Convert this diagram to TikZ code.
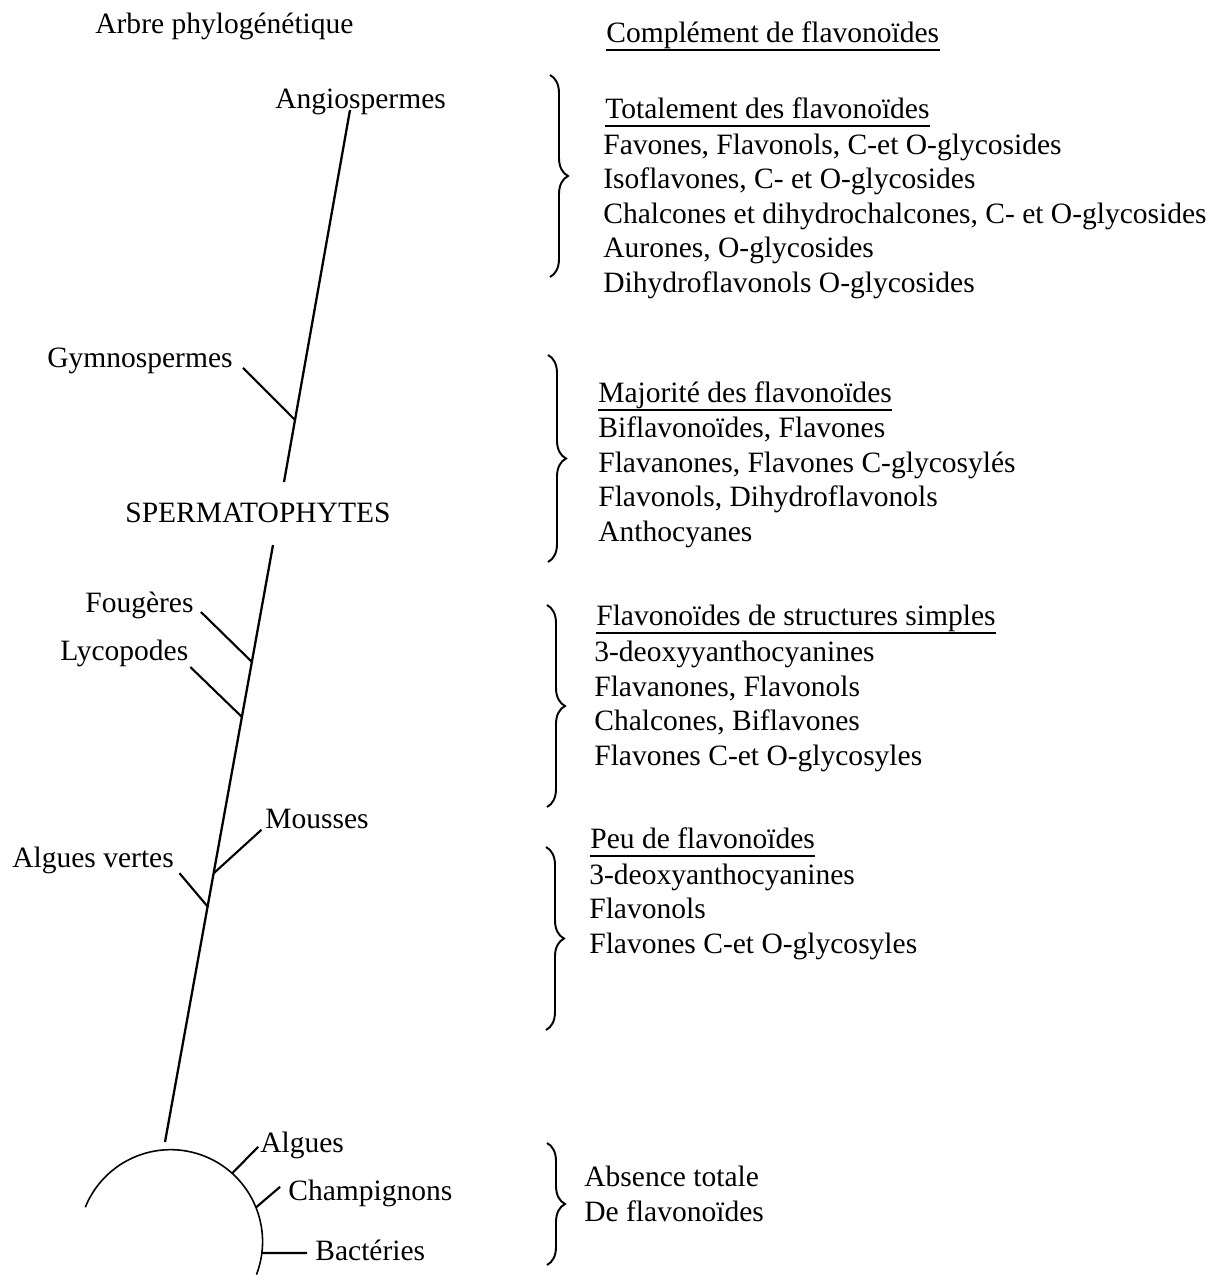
\documentclass[tikz,border=0pt]{standalone}
\usepackage{fontspec}
\setmainfont{Liberation Serif}
\usetikzlibrary{decorations.pathreplacing}

\begin{document}
\begin{tikzpicture}[x=0.02cm, y=-0.02cm,
    lbl/.style={anchor=base west, inner sep=0pt, font=\fontsize{16.8}{19.6}\selectfont},
    lst/.style={lbl, align=left},
    trunk/.style={line width=1.3pt},
    branch/.style={line width=1.2pt},
    soil/.style={line width=0.9pt},
    uline/.style={line width=0.8pt},
    accolade/.style={line width=1.1pt, decorate, decoration={brace, amplitude=0.36cm}}
]
\useasboundingbox (0,0) rectangle (1219,1275);

% Titles
\node[lbl] (arbre) at (95,33) {Arbre phylogénétique};
\node[lbl] (compl) at (606,42) {Complément de flavonoïdes};
\draw[uline] ([yshift=-4.5pt]compl.base west) -- ([yshift=-4.5pt]compl.base east);

% Tree labels
\node[lbl] (angio) at (275,108) {Angiospermes};
\node[lbl] (gymno) at (47,367) {Gymnospermes};
\node[lbl] (sperma) at (125,522) {SPERMATOPHYTES};
\node[lbl] (foug) at (85,612) {Fougères};
\node[lbl] (lyco) at (60,660) {Lycopodes};
\node[lbl] (mous) at (265,828) {Mousses};
\node[lbl] (avert) at (12,867) {Algues vertes};
\node[lbl] (algues) at (260,1152) {Algues};
\node[lbl] (champ) at (288,1200) {Champignons};
\node[lbl] (bact) at (315,1260) {Bactéries};

% Trunk, cut by SPERMATOPHYTES
\coordinate (top) at (350,110);
\coordinate (cut1) at (284,482);
\coordinate (cut2) at (273,545);
\coordinate (root) at (165,1142);
\draw[trunk] (top) -- (cut1);
\draw[trunk] (cut2) -- (root);

% Branch points on the trunk
\coordinate (jgymno) at (295,420);
\coordinate (jfoug) at (252,662);
\coordinate (jlyco) at (242,717);
\coordinate (jmous) at (214,873);
\coordinate (javert) at (208,907);

\draw[branch] ([xshift=5.7pt, yshift=-0.5pt]gymno.base east) -- (jgymno);
\draw[branch] ([xshift=4pt]foug.base east) -- (jfoug);
\draw[branch] ([xshift=1pt, yshift=-4pt]lyco.base east) -- (jlyco);
\draw[branch] ([xshift=-2pt, yshift=-1pt]mous.base west) -- (jmous);
\draw[branch] ([xshift=3pt, yshift=-3.5pt]avert.base east) -- (javert);

% Arc of the primitive organisms
\coordinate (arcstart) at (85.3,1207.2);
\draw[soil] (arcstart) arc[start angle=158, end angle=-21, radius=1.84cm];
\coordinate (jalg) at (232.2,1173.3);
\coordinate (jchamp) at (256,1207.4);
\coordinate (jbact) at (262,1253);
\draw[branch] ([xshift=-1pt, yshift=3pt]algues.base west) -- (jalg);
\draw[branch] ([xshift=-4.5pt, yshift=7.5pt]champ.base west) -- (jchamp);
\draw[branch] ([xshift=-4.5pt, yshift=4pt]bact.base west) -- (jbact);

% Braces
\draw[accolade] (550,75) -- (550,277);
\draw[accolade] (548,355) -- (548,562);
\draw[accolade] (547,605) -- (547,807);
\draw[accolade] (546,847) -- (546,1030);
\draw[accolade] (547,1143) -- (547,1265);

% Block 1 (lists sit on the baseline of their last line)
\node[lbl] (tot) at (605,118) {Totalement des flavonoïdes};
\draw[uline] ([yshift=-4.5pt]tot.base west) -- ([yshift=-4.5pt]tot.base east);
\node[lst] (totlist) at (603,292) {Favones, Flavonols, C-et O-glycosides\\Isoflavones, C- et O-glycosides\\Chalcones et dihydrochalcones, C- et O-glycosides\\Aurones, O-glycosides\\Dihydroflavonols O-glycosides};

% Block 2
\node[lbl] (maj) at (598,402) {Majorité des flavonoïdes};
\draw[uline] ([yshift=-4.5pt]maj.base west) -- ([yshift=-4.5pt]maj.base east);
\node[lst] (majlist) at (598,541) {Biflavonoïdes, Flavones\\Flavanones, Flavones C-glycosylés\\Flavonols, Dihydroflavonols\\Anthocyanes};

% Block 3
\node[lbl] (simp) at (596,625) {Flavonoïdes de structures simples};
\draw[uline] ([yshift=-4.5pt]simp.base west) -- ([yshift=-4.5pt]simp.base east);
\node[lst] (simplist) at (594,765) {3-deoxyyanthocyanines\\Flavanones, Flavonols\\Chalcones, Biflavones\\Flavones C-et O-glycosyles};

% Block 4
\node[lbl] (peu) at (590,848) {Peu de flavonoïdes};
\draw[uline] ([yshift=-4.5pt]peu.base west) -- ([yshift=-4.5pt]peu.base east);
\node[lst] (peulist) at (589,953) {3-deoxyanthocyanines\\Flavonols\\Flavones C-et O-glycosyles};

% Block 5
\node[lst] (abs) at (584,1221) {Absence totale\\De flavonoïdes};

\end{tikzpicture}
\end{document}
